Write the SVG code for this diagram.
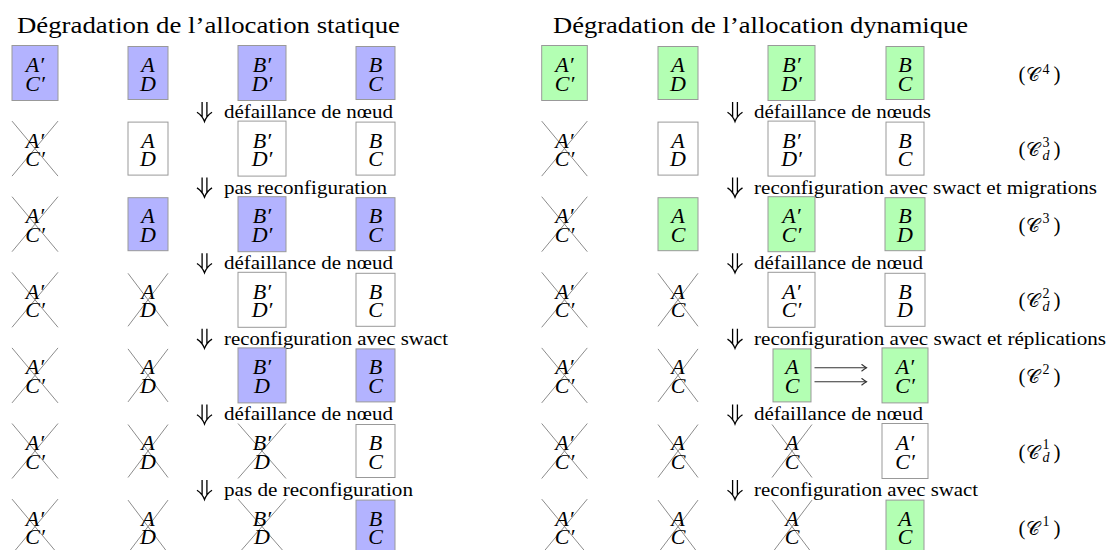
<svg xmlns="http://www.w3.org/2000/svg" width="1107" height="550" viewBox="0 0 1107 550">
<style>
.b{fill:#b3b3ff;stroke:#999;stroke-width:1}
.g{fill:#b3ffb3;stroke:#999;stroke-width:1}
.w{fill:#fff;stroke:#999;stroke-width:1}
.x{stroke:#8c8c8c;stroke-width:1;fill:none}
.t{font-family:"Liberation Serif",serif;font-style:italic;font-size:22px;text-anchor:middle;fill:#000}
.ttl{font-family:"Liberation Serif",serif;font-size:23px;fill:#000}
.lbl{font-family:"Liberation Serif",serif;font-size:18px;fill:#000}
.cl{font-family:"Liberation Serif",serif;font-size:21px;fill:#000}
.cal{font-family:"DejaVu Serif","DejaVu Sans","Noto Sans",serif;font-size:19px;font-weight:normal}
.sm{font-size:14px}
.ar{stroke:#000;stroke-width:1.3;fill:none}
.la{stroke:#333;stroke-width:1.1;fill:none}
</style>
<defs>
<g id="dd"><path class="ar" d="M-2.4,0V15.3M2.4,0V15.3M-7.5,10.3C-4.5,12.3 -1.5,15.5 0,19.6C1.5,15.5 4.5,12.3 7.5,10.3"/></g>
<marker id="hd" viewBox="-6 -4 7 8" refX="0" refY="0" markerWidth="7" markerHeight="8" markerUnits="userSpaceOnUse" orient="auto"><path d="M-5,-3.5Q-1.5,-0.8 0,0Q-1.5,0.8 -5,3.5" stroke="#333" stroke-width="1.1" fill="none"/></marker>
</defs>

<text class="ttl" x="17" y="33.3" textLength="383" lengthAdjust="spacingAndGlyphs">Dégradation de l’allocation statique</text>
<text class="ttl" x="553" y="33.3" textLength="415" lengthAdjust="spacingAndGlyphs">Dégradation de l’allocation dynamique</text>

<g id="connectors">
<use href="#dd" x="204.5" y="102"/>
<use href="#dd" x="204.5" y="177.6"/>
<use href="#dd" x="204.5" y="253.2"/>
<use href="#dd" x="204.5" y="328.8"/>
<use href="#dd" x="204.5" y="404.4"/>
<use href="#dd" x="204.5" y="480"/>
<use href="#dd" x="735" y="102"/>
<use href="#dd" x="735" y="177.6"/>
<use href="#dd" x="735" y="253.2"/>
<use href="#dd" x="735" y="328.8"/>
<use href="#dd" x="735" y="404.4"/>
<use href="#dd" x="735" y="480"/>
<line class="la" x1="814.5" y1="367.7" x2="866.5" y2="367.7" marker-end="url(#hd)"/>
<line class="la" x1="814.5" y1="381.7" x2="866.5" y2="381.7" marker-end="url(#hd)"/>
</g>

<g id="labels">
<text class="lbl" x="224" y="118" textLength="169" lengthAdjust="spacingAndGlyphs">défaillance de nœud</text>
<text class="lbl" x="224" y="193.6" textLength="163" lengthAdjust="spacingAndGlyphs">pas reconfiguration</text>
<text class="lbl" x="224" y="269.2" textLength="169" lengthAdjust="spacingAndGlyphs">défaillance de nœud</text>
<text class="lbl" x="224" y="344.8" textLength="224" lengthAdjust="spacingAndGlyphs">reconfiguration avec swact</text>
<text class="lbl" x="224" y="420.4" textLength="169" lengthAdjust="spacingAndGlyphs">défaillance de nœud</text>
<text class="lbl" x="224" y="496" textLength="189" lengthAdjust="spacingAndGlyphs">pas de reconfiguration</text>
<text class="lbl" x="754" y="118" textLength="177" lengthAdjust="spacingAndGlyphs">défaillance de nœuds</text>
<text class="lbl" x="754" y="193.6" textLength="343" lengthAdjust="spacingAndGlyphs">reconfiguration avec swact et migrations</text>
<text class="lbl" x="754" y="269.2" textLength="169" lengthAdjust="spacingAndGlyphs">défaillance de nœud</text>
<text class="lbl" x="754" y="344.8" textLength="352" lengthAdjust="spacingAndGlyphs">reconfiguration avec swact et réplications</text>
<text class="lbl" x="754" y="420.4" textLength="169" lengthAdjust="spacingAndGlyphs">défaillance de nœud</text>
<text class="lbl" x="754" y="496" textLength="224" lengthAdjust="spacingAndGlyphs">reconfiguration avec swact</text>
</g>

<g id="configs">
<text class="cl"><tspan x="1018.5" y="81">(</tspan><tspan class="cal" x="1026" y="81">𝒞</tspan><tspan class="sm" x="1042.5" y="74">4</tspan><tspan x="1053.5" y="81">)</tspan></text>
<text class="cl"><tspan x="1018.5" y="156">(</tspan><tspan class="cal" x="1026" y="156">𝒞</tspan><tspan class="sm" x="1042.5" y="146.6">3</tspan><tspan class="sm" x="1042.5" y="159.6" font-style="italic">d</tspan><tspan x="1053.5" y="156">)</tspan></text>
<text class="cl"><tspan x="1018.5" y="232.2">(</tspan><tspan class="cal" x="1026" y="232.2">𝒞</tspan><tspan class="sm" x="1042.5" y="223.2">3</tspan><tspan x="1053.5" y="232.2">)</tspan></text>
<text class="cl"><tspan x="1018.5" y="307.3">(</tspan><tspan class="cal" x="1026" y="307.3">𝒞</tspan><tspan class="sm" x="1042.5" y="297.8">2</tspan><tspan class="sm" x="1042.5" y="310.8" font-style="italic">d</tspan><tspan x="1053.5" y="307.3">)</tspan></text>
<text class="cl"><tspan x="1018.5" y="383.4">(</tspan><tspan class="cal" x="1026" y="383.4">𝒞</tspan><tspan class="sm" x="1042.5" y="374.4">2</tspan><tspan x="1053.5" y="383.4">)</tspan></text>
<text class="cl"><tspan x="1018.5" y="458.5">(</tspan><tspan class="cal" x="1026" y="458.5">𝒞</tspan><tspan class="sm" x="1042.5" y="449">1</tspan><tspan class="sm" x="1042.5" y="462" font-style="italic">d</tspan><tspan x="1053.5" y="458.5">)</tspan></text>
<text class="cl"><tspan x="1018.5" y="534.6">(</tspan><tspan class="cal" x="1026" y="534.6">𝒞</tspan><tspan class="sm" x="1042.5" y="525.6">1</tspan><tspan x="1053.5" y="534.6">)</tspan></text>
</g>

<!-- static allocation -->
<g id="s1-1"><rect class="b" x="12" y="45.5" width="46" height="55"/><text class="t"><tspan x="35" y="72">A′</tspan><tspan x="35" y="90.5">C′</tspan></text></g>
<g id="s1-2"><rect class="b" x="128" y="46.5" width="40" height="53"/><text class="t"><tspan x="148" y="72">A</tspan><tspan x="148" y="90.5">D</tspan></text></g>
<g id="s1-3"><rect class="b" x="238" y="45.5" width="48" height="55"/><text class="t"><tspan x="262" y="72">B′</tspan><tspan x="262" y="90.5">D′</tspan></text></g>
<g id="s1-4"><rect class="b" x="356" y="46.5" width="39" height="53"/><text class="t"><tspan x="375.5" y="72">B</tspan><tspan x="375.5" y="90.5">C</tspan></text></g>

<g id="s2-1"><path class="x" d="M12,121.1L58,176.1M58,121.1L12,176.1"/><text class="t"><tspan x="35" y="147.6">A′</tspan><tspan x="35" y="166.1">C′</tspan></text></g>
<g id="s2-2"><rect class="w" x="128" y="122.1" width="40" height="53"/><text class="t"><tspan x="148" y="147.6">A</tspan><tspan x="148" y="166.1">D</tspan></text></g>
<g id="s2-3"><rect class="w" x="238" y="121.1" width="48" height="55"/><text class="t"><tspan x="262" y="147.6">B′</tspan><tspan x="262" y="166.1">D′</tspan></text></g>
<g id="s2-4"><rect class="w" x="356" y="122.1" width="39" height="53"/><text class="t"><tspan x="375.5" y="147.6">B</tspan><tspan x="375.5" y="166.1">C</tspan></text></g>

<g id="s3-1"><path class="x" d="M12,196.7L58,251.7M58,196.7L12,251.7"/><text class="t"><tspan x="35" y="223.2">A′</tspan><tspan x="35" y="241.7">C′</tspan></text></g>
<g id="s3-2"><rect class="b" x="128" y="197.7" width="40" height="53"/><text class="t"><tspan x="148" y="223.2">A</tspan><tspan x="148" y="241.7">D</tspan></text></g>
<g id="s3-3"><rect class="b" x="238" y="196.7" width="48" height="55"/><text class="t"><tspan x="262" y="223.2">B′</tspan><tspan x="262" y="241.7">D′</tspan></text></g>
<g id="s3-4"><rect class="b" x="356" y="197.7" width="39" height="53"/><text class="t"><tspan x="375.5" y="223.2">B</tspan><tspan x="375.5" y="241.7">C</tspan></text></g>

<g id="s4-1"><path class="x" d="M12,272.3L58,327.3M58,272.3L12,327.3"/><text class="t"><tspan x="35" y="298.8">A′</tspan><tspan x="35" y="317.3">C′</tspan></text></g>
<g id="s4-2"><path class="x" d="M128,273.3L168,326.3M168,273.3L128,326.3"/><text class="t"><tspan x="148" y="298.8">A</tspan><tspan x="148" y="317.3">D</tspan></text></g>
<g id="s4-3"><rect class="w" x="238" y="272.3" width="48" height="55"/><text class="t"><tspan x="262" y="298.8">B′</tspan><tspan x="262" y="317.3">D′</tspan></text></g>
<g id="s4-4"><rect class="w" x="356" y="273.3" width="39" height="53"/><text class="t"><tspan x="375.5" y="298.8">B</tspan><tspan x="375.5" y="317.3">C</tspan></text></g>

<g id="s5-1"><path class="x" d="M12,347.9L58,402.9M58,347.9L12,402.9"/><text class="t"><tspan x="35" y="374.4">A′</tspan><tspan x="35" y="392.9">C′</tspan></text></g>
<g id="s5-2"><path class="x" d="M128,348.9L168,401.9M168,348.9L128,401.9"/><text class="t"><tspan x="148" y="374.4">A</tspan><tspan x="148" y="392.9">D</tspan></text></g>
<g id="s5-3"><rect class="b" x="238" y="347.9" width="48" height="55"/><text class="t"><tspan x="262" y="374.4">B′</tspan><tspan x="262" y="392.9">D</tspan></text></g>
<g id="s5-4"><rect class="b" x="356" y="348.9" width="39" height="53"/><text class="t"><tspan x="375.5" y="374.4">B</tspan><tspan x="375.5" y="392.9">C</tspan></text></g>

<g id="s6-1"><path class="x" d="M12,423.5L58,478.5M58,423.5L12,478.5"/><text class="t"><tspan x="35" y="450">A′</tspan><tspan x="35" y="468.5">C′</tspan></text></g>
<g id="s6-2"><path class="x" d="M128,424.5L168,477.5M168,424.5L128,477.5"/><text class="t"><tspan x="148" y="450">A</tspan><tspan x="148" y="468.5">D</tspan></text></g>
<g id="s6-3"><path class="x" d="M238,423.5L286,478.5M286,423.5L238,478.5"/><text class="t"><tspan x="262" y="450">B′</tspan><tspan x="262" y="468.5">D</tspan></text></g>
<g id="s6-4"><rect class="w" x="356" y="424.5" width="39" height="53"/><text class="t"><tspan x="375.5" y="450">B</tspan><tspan x="375.5" y="468.5">C</tspan></text></g>

<g id="s7-1"><path class="x" d="M12,499.1L58,554.1M58,499.1L12,554.1"/><text class="t"><tspan x="35" y="525.6">A′</tspan><tspan x="35" y="544.1">C′</tspan></text></g>
<g id="s7-2"><path class="x" d="M128,500.1L168,553.1M168,500.1L128,553.1"/><text class="t"><tspan x="148" y="525.6">A</tspan><tspan x="148" y="544.1">D</tspan></text></g>
<g id="s7-3"><path class="x" d="M238,499.1L286,554.1M286,499.1L238,554.1"/><text class="t"><tspan x="262" y="525.6">B′</tspan><tspan x="262" y="544.1">D</tspan></text></g>
<g id="s7-4"><rect class="b" x="356" y="500.1" width="39" height="53"/><text class="t"><tspan x="375.5" y="525.6">B</tspan><tspan x="375.5" y="544.1">C</tspan></text></g>

<!-- dynamic allocation -->
<g id="d1-1"><rect class="g" x="541.7" y="45.5" width="45.6" height="55"/><text class="t"><tspan x="564.5" y="72">A′</tspan><tspan x="564.5" y="90.5">C′</tspan></text></g>
<g id="d1-2"><rect class="g" x="658" y="46.5" width="40" height="53"/><text class="t"><tspan x="678" y="72">A</tspan><tspan x="678" y="90.5">D</tspan></text></g>
<g id="d1-3"><rect class="g" x="768" y="45.5" width="47" height="55"/><text class="t"><tspan x="791.5" y="72">B′</tspan><tspan x="791.5" y="90.5">D′</tspan></text></g>
<g id="d1-4"><rect class="g" x="886" y="46.5" width="38" height="53"/><text class="t"><tspan x="905" y="72">B</tspan><tspan x="905" y="90.5">C</tspan></text></g>

<g id="d2-1"><path class="x" d="M541.7,121.1L587.3,176.1M587.3,121.1L541.7,176.1"/><text class="t"><tspan x="564.5" y="147.6">A′</tspan><tspan x="564.5" y="166.1">C′</tspan></text></g>
<g id="d2-2"><rect class="w" x="658" y="122.1" width="40" height="53"/><text class="t"><tspan x="678" y="147.6">A</tspan><tspan x="678" y="166.1">D</tspan></text></g>
<g id="d2-3"><rect class="w" x="768" y="121.1" width="47" height="55"/><text class="t"><tspan x="791.5" y="147.6">B′</tspan><tspan x="791.5" y="166.1">D′</tspan></text></g>
<g id="d2-4"><rect class="w" x="886" y="122.1" width="38" height="53"/><text class="t"><tspan x="905" y="147.6">B</tspan><tspan x="905" y="166.1">C</tspan></text></g>

<g id="d3-1"><path class="x" d="M541.7,196.7L587.3,251.7M587.3,196.7L541.7,251.7"/><text class="t"><tspan x="564.5" y="223.2">A′</tspan><tspan x="564.5" y="241.7">C′</tspan></text></g>
<g id="d3-2"><rect class="g" x="658" y="197.7" width="40" height="53"/><text class="t"><tspan x="678" y="223.2">A</tspan><tspan x="678" y="241.7">C</tspan></text></g>
<g id="d3-3"><rect class="g" x="768" y="196.7" width="47" height="55"/><text class="t"><tspan x="791.5" y="223.2">A′</tspan><tspan x="791.5" y="241.7">C′</tspan></text></g>
<g id="d3-4"><rect class="g" x="885" y="197.7" width="40" height="53"/><text class="t"><tspan x="905" y="223.2">B</tspan><tspan x="905" y="241.7">D</tspan></text></g>

<g id="d4-1"><path class="x" d="M541.7,272.3L587.3,327.3M587.3,272.3L541.7,327.3"/><text class="t"><tspan x="564.5" y="298.8">A′</tspan><tspan x="564.5" y="317.3">C′</tspan></text></g>
<g id="d4-2"><path class="x" d="M658,273.3L698,326.3M698,273.3L658,326.3"/><text class="t"><tspan x="678" y="298.8">A</tspan><tspan x="678" y="317.3">C</tspan></text></g>
<g id="d4-3"><rect class="w" x="768" y="272.3" width="47" height="55"/><text class="t"><tspan x="791.5" y="298.8">A′</tspan><tspan x="791.5" y="317.3">C′</tspan></text></g>
<g id="d4-4"><rect class="w" x="885" y="273.3" width="40" height="53"/><text class="t"><tspan x="905" y="298.8">B</tspan><tspan x="905" y="317.3">D</tspan></text></g>

<g id="d5-1"><path class="x" d="M541.7,347.9L587.3,402.9M587.3,347.9L541.7,402.9"/><text class="t"><tspan x="564.5" y="374.4">A′</tspan><tspan x="564.5" y="392.9">C′</tspan></text></g>
<g id="d5-2"><path class="x" d="M658,348.9L698,401.9M698,348.9L658,401.9"/><text class="t"><tspan x="678" y="374.4">A</tspan><tspan x="678" y="392.9">C</tspan></text></g>
<g id="d5-3"><rect class="g" x="773" y="348.9" width="38" height="53"/><text class="t"><tspan x="792" y="374.4">A</tspan><tspan x="792" y="392.9">C</tspan></text></g>
<g id="d5-4"><rect class="g" x="882" y="347.9" width="46" height="55"/><text class="t"><tspan x="905" y="374.4">A′</tspan><tspan x="905" y="392.9">C′</tspan></text></g>

<g id="d6-1"><path class="x" d="M541.7,423.5L587.3,478.5M587.3,423.5L541.7,478.5"/><text class="t"><tspan x="564.5" y="450">A′</tspan><tspan x="564.5" y="468.5">C′</tspan></text></g>
<g id="d6-2"><path class="x" d="M658,424.5L698,477.5M698,424.5L658,477.5"/><text class="t"><tspan x="678" y="450">A</tspan><tspan x="678" y="468.5">C</tspan></text></g>
<g id="d6-3"><path class="x" d="M772,424.5L812,477.5M812,424.5L772,477.5"/><text class="t"><tspan x="792" y="450">A</tspan><tspan x="792" y="468.5">C</tspan></text></g>
<g id="d6-4"><rect class="w" x="882" y="423.5" width="46" height="55"/><text class="t"><tspan x="905" y="450">A′</tspan><tspan x="905" y="468.5">C′</tspan></text></g>

<g id="d7-1"><path class="x" d="M541.7,499.1L587.3,554.1M587.3,499.1L541.7,554.1"/><text class="t"><tspan x="564.5" y="525.6">A′</tspan><tspan x="564.5" y="544.1">C′</tspan></text></g>
<g id="d7-2"><path class="x" d="M658,500.1L698,553.1M698,500.1L658,553.1"/><text class="t"><tspan x="678" y="525.6">A</tspan><tspan x="678" y="544.1">C</tspan></text></g>
<g id="d7-3"><path class="x" d="M772,500.1L812,553.1M812,500.1L772,553.1"/><text class="t"><tspan x="792" y="525.6">A</tspan><tspan x="792" y="544.1">C</tspan></text></g>
<g id="d7-4"><rect class="g" x="886" y="500.1" width="38" height="53"/><text class="t"><tspan x="905" y="525.6">A</tspan><tspan x="905" y="544.1">C</tspan></text></g>
</svg>
